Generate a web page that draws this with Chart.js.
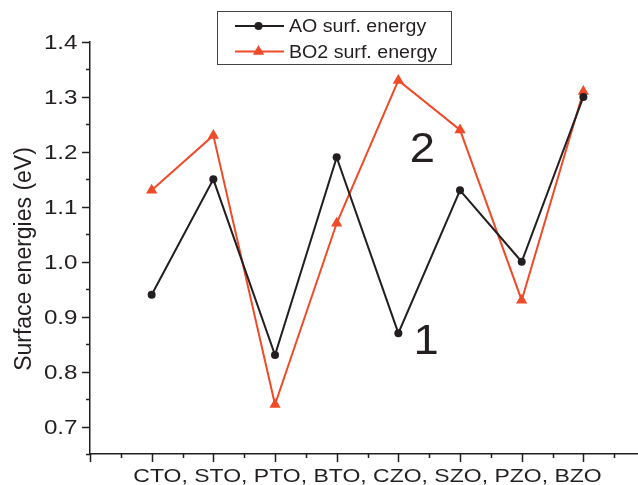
<!DOCTYPE html>
<html>
<head>
<meta charset="utf-8">
<script src="https://cdn.jsdelivr.net/npm/chart.js@4/dist/chart.umd.min.js"></script>
<style>
  html, body { margin: 0; padding: 0; background: #fff; overflow: hidden; }
  #wrap { width: 638px; height: 485px; }
</style>
</head>
<body>
<div id="wrap"><canvas id="c" width="638" height="485"></canvas></div>
<script>
// Perovskite oxides and their surface energies (eV)
const categories = ['CTO', 'STO', 'PTO', 'BTO', 'CZO', 'SZO', 'PZO', 'BZO'];
const aoEnergy  = [0.94, 1.15, 0.83, 1.19, 0.87, 1.13, 1.00, 1.30];
const bo2Energy = [1.13, 1.23, 0.74, 1.07, 1.33, 1.24, 0.93, 1.31];
const yTickValues = [0.7, 0.8, 0.9, 1.0, 1.1, 1.2, 1.3, 1.4];
const regionLabels = [
  { text: '2', x: 5.39, y: 1.182 },
  { text: '1', x: 5.45, y: 0.832 }
];

const INK = '#231f20';
const RED = '#ef4b28';
const FONT = '"Liberation Sans", Arial, Helvetica, sans-serif';

const toPoints = arr => arr.map((v, i) => ({ x: i + 1, y: v }));

// Text drawn slightly widened, the way the plot's typeface is set
function wideText(ctx, text, x, y, size, stretch, align) {
  ctx.save();
  ctx.font = size + 'px ' + FONT;
  ctx.fillStyle = INK;
  ctx.textBaseline = 'alphabetic';
  ctx.textAlign = align;
  ctx.translate(x, y);
  ctx.scale(stretch, 1);
  ctx.fillText(text, 0, 0);
  ctx.restore();
}

// Outward major and minor tick marks on both axes
const tickMarks = {
  id: 'tickMarks',
  afterDraw(chart) {
    const { ctx, scales: { x, y } } = chart;
    ctx.save();
    ctx.strokeStyle = INK;
    ctx.lineWidth = 1.5;
    ctx.beginPath();
    for (let v = 0; v <= x.max + 1e-9; v += 0.5) {
      const px = Math.round(x.getPixelForValue(v)) + 0.5;
      const len = Number.isInteger(v) ? 8 : 4;
      ctx.moveTo(px, x.top);
      ctx.lineTo(px, x.top + len);
    }
    for (let k = 0; k <= 15; k++) {
      const v = 0.65 + k * 0.05;
      const py = Math.round(y.getPixelForValue(v)) + 0.5;
      const len = (k % 2 === 1) ? 8 : 4;
      ctx.moveTo(y.right, py);
      ctx.lineTo(y.right - len, py);
    }
    ctx.stroke();
    ctx.restore();
  }
};

// Tick labels: numeric values on y, one comma-separated line of compounds on x
const tickLabels = {
  id: 'tickLabels',
  afterDraw(chart) {
    const { ctx, scales: { x, y } } = chart;
    yTickValues.forEach(v => {
      const py = y.getPixelForValue(v);
      wideText(ctx, v.toFixed(1), y.right - 12.5, py + 7.3, 19.5, 1.24, 'right');
    });
    const mid = x.getPixelForValue((1 + categories.length) / 2);
    wideText(ctx, categories.join(', '), mid, x.top + 28, 19, 1.21, 'center');
  }
};

// Rotated y-axis title
const yTitle = {
  id: 'yTitle',
  afterDraw(chart) {
    const { ctx } = chart;
    ctx.save();
    ctx.translate(30.5, 259);
    ctx.rotate(-Math.PI / 2);
    ctx.scale(1, 1.08);
    ctx.font = '23px ' + FONT;
    ctx.fillStyle = INK;
    ctx.textAlign = 'center';
    ctx.textBaseline = 'alphabetic';
    ctx.fillText('Surface energies (eV)', 0, 0);
    ctx.restore();
  }
};

// Boxed legend in the upper part of the plot
const boxLegend = {
  id: 'boxLegend',
  afterDraw(chart) {
    const { ctx } = chart;
    const bx = 217, by = 11, bw = 234, bh = 53;
    ctx.save();
    ctx.strokeStyle = '#444';
    ctx.lineWidth = 1;
    ctx.strokeRect(bx + 0.5, by + 0.5, bw, bh);
    const rows = [26, 51.5];
    chart.data.datasets.forEach((ds, i) => {
      const ry = rows[i];
      ctx.strokeStyle = ds.borderColor;
      ctx.lineWidth = 2;
      ctx.beginPath();
      ctx.moveTo(235, ry);
      ctx.lineTo(284, ry);
      ctx.stroke();
      ctx.fillStyle = ds.pointBackgroundColor;
      ctx.beginPath();
      const cx = 258.5, r = ds.pointRadius;
      if (ds.pointStyle === 'triangle') {
        for (let k = 0; k < 3; k++) {
          const a = k * 2 * Math.PI / 3;
          const px = cx + Math.sin(a) * r, py = ry - Math.cos(a) * r;
          if (k === 0) ctx.moveTo(px, py); else ctx.lineTo(px, py);
        }
        ctx.closePath();
      } else {
        ctx.arc(cx, ry, r, 0, Math.PI * 2);
      }
      ctx.fill();
      wideText(ctx, ds.label, 289, ry + 6.3, 17.5, 1.12, 'left');
    });
    ctx.restore();
  }
};

// Large region markers placed in data coordinates
const regionText = {
  id: 'regionText',
  afterDraw(chart) {
    const { ctx, scales: { x, y } } = chart;
    regionLabels.forEach(l => {
      wideText(ctx, l.text, x.getPixelForValue(l.x), y.getPixelForValue(l.y), 42, 1.08, 'center');
    });
  }
};

new Chart(document.getElementById('c'), {
  type: 'line',
  data: {
    datasets: [
      {
        label: 'AO surf. energy',
        data: toPoints(aoEnergy),
        borderColor: INK,
        backgroundColor: INK,
        pointBackgroundColor: INK,
        pointBorderColor: INK,
        borderWidth: 2,
        pointStyle: 'circle',
        pointRadius: 4,
        pointBorderWidth: 0,
        tension: 0
      },
      {
        label: 'BO2 surf. energy',
        data: toPoints(bo2Energy),
        borderColor: RED,
        backgroundColor: RED,
        pointBackgroundColor: RED,
        pointBorderColor: RED,
        borderWidth: 2,
        pointStyle: 'triangle',
        pointRadius: 6.5,
        pointBorderWidth: 0,
        tension: 0
      }
    ]
  },
  options: {
    responsive: false,
    devicePixelRatio: 1,
    animation: false,
    layout: { autoPadding: false, padding: { top: 42, right: 0, left: 0, bottom: 0 } },
    plugins: { legend: { display: false }, tooltip: { enabled: false } },
    scales: {
      x: {
        type: 'linear',
        min: 0,
        max: 8.886,
        afterFit: s => { s.height = 31; s.paddingLeft = 0; s.paddingRight = 0; },
        grid: { display: true, drawOnChartArea: false, drawTicks: false },
        border: { display: true, color: INK, width: 1.5 },
        ticks: { display: false }
      },
      y: {
        min: 0.65,
        max: 1.4,
        afterFit: s => { s.width = 90; s.paddingTop = 0; s.paddingBottom = 0; },
        grid: { display: true, drawOnChartArea: false, drawTicks: false },
        border: { display: true, color: INK, width: 1.5 },
        ticks: { display: false }
      }
    }
  },
  plugins: [tickMarks, tickLabels, yTitle, boxLegend, regionText]
});
</script>
</body>
</html>
